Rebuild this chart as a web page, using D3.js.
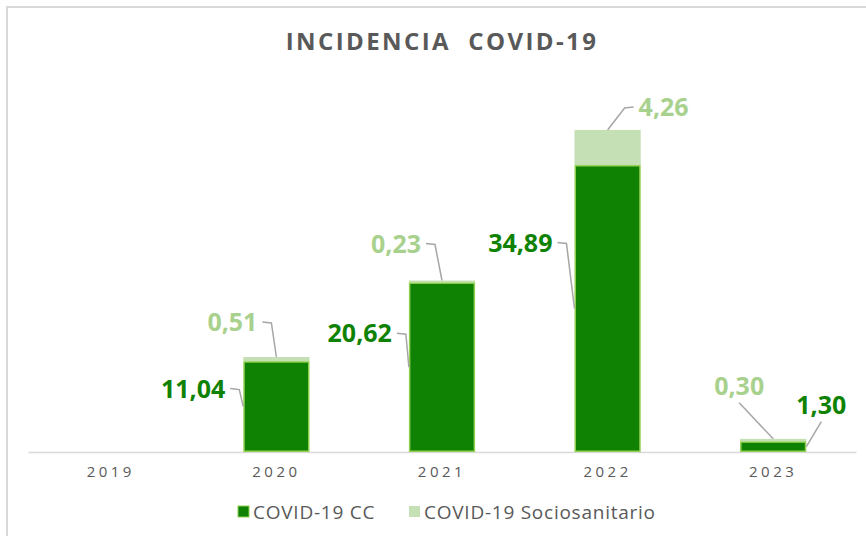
<!DOCTYPE html>
<html>
<head>
<meta charset="utf-8">
<script src="https://cdn.jsdelivr.net/npm/d3@7"></script>
<style>
  body { margin: 0; background: #fff; }
  svg { display: block; font-family: "Open Sans", sans-serif; }
</style>
</head>
<body>
<svg id="chart" width="866" height="536"></svg>
<script>
/* incidencia covid-19, barras apiladas */
var years = ["2019", "2020", "2021", "2022", "2023"];
var cc = [0, 11.04, 20.62, 34.89, 1.30];
var socio = [0, 0.51, 0.23, 4.26, 0.30];
var seriesNames = ["COVID-19 CC", "COVID-19 Sociosanitario"];

// posicion de etiquetas respecto al punto de la guia (layout)
var ccLab = [null,
	{dx: -18, dy: -18, anchor: "end", elbow: true},
	{dx: -17, dy: -34, anchor: "end", elbow: true},
	{dx: -22, dy: -66, anchor: "end", elbow: true},
	{dx: 15, dy: -42, anchor: "middle", elbow: false}];
var socioLab = [null,
	{dx: -19, dy: -35, anchor: "end", elbow: true},
	{dx: -21, dy: -37, anchor: "end", elbow: true},
	{dx: 31, dy: -23, anchor: "start", elbow: true},
	{dx: -34, dy: -53, anchor: "middle", elbow: false}];

var dark = "#0f8204", light = "#c5e0b4", edge = "#92d050";
var darkTxt = "#0f8204", lightTxt = "#a9d18e", grey = "#595959";

var svg = d3.select("#chart");

// marco
svg.append("rect").attr("x", 7).attr("y", 7).attr("width", 880).attr("height", 560)
	.attr("fill", "none").attr("stroke", "#d9d9d9").attr("stroke-width", 2);

svg.append("text").attr("x", 442).attr("y", 50)
	.attr("text-anchor", "middle").attr("fill", grey)
	.attr("font-size", "24px").attr("font-weight", "bold")
	.attr("letter-spacing", "2.4px").attr("xml:space", "preserve")
	.text("INCIDENCIA  COVID-19");

var x = d3.scaleBand().domain(years).range([28, 856]).paddingInner(0.6).paddingOuter(0.3);
var y = d3.scaleLinear().domain([0, 40]).range([452, 123]);

var xAxis = svg.append("g").attr("transform", "translate(0,452)")
	.call(d3.axisBottom(x).tickSize(0).tickPadding(14).tickSizeOuter(0));
xAxis.select(".domain").attr("stroke", "#d9d9d9").attr("stroke-width", 1.5);
xAxis.selectAll("text").attr("fill", grey).attr("font-size", "15px")
	.attr("letter-spacing", "3.5px").attr("font-family", "Open Sans, sans-serif");

var data = years.map(function(d, i) {
	return {year: d, cc: cc[i], socio: socio[i], i: i};
}).filter(function(d) { return d.cc + d.socio > 0; });

var bars = svg.append("g");
bars.selectAll(".s").data(data).enter().append("rect")
	.attr("x", function(d) { return x(d.year); })
	.attr("width", x.bandwidth())
	.attr("y", function(d) { return y(d.cc + d.socio); })
	.attr("height", function(d) { return y(d.cc) - y(d.cc + d.socio); })
	.attr("fill", light);
bars.selectAll(".c").data(data).enter().append("rect")
	.attr("x", function(d) { return x(d.year) + 0.75; })
	.attr("width", x.bandwidth() - 1.5)
	.attr("y", function(d) { return y(d.cc) + 0.75; })
	.attr("height", function(d) { return y(0) - y(d.cc) - 1.5; })
	.attr("fill", dark).attr("stroke", edge).attr("stroke-width", 1.5);

function fmt(v) { return d3.format(".2f")(v).replace(".", ","); }

var labs = svg.append("g");
function label(px, py, o, txt, col) {
	var tx = px + o.dx, ty = py + o.dy;
	var pts;
	if (o.elbow) {
		var s = o.anchor == "end" ? 1 : -1;
		pts = [[tx + 5 * s, ty], [tx + 14 * s, ty + 1], [px, py]];
	} else {
		pts = [[tx, ty + 17], [px, py]];
	}
	labs.append("path").attr("d", d3.line()(pts))
		.attr("fill", "none").attr("stroke", "#a6a6a6").attr("stroke-width", 1.5);
	labs.append("text").attr("x", tx).attr("y", ty).attr("dy", "0.36em")
		.attr("text-anchor", o.anchor).attr("fill", col)
		.attr("font-size", "25px").attr("font-weight", "bold").text(txt);
}
data.forEach(function(d) {
	var cx = x(d.year) + x.bandwidth() / 2;
	var mid = (y(0) + y(d.cc)) / 2;
	var edgeX = d.i == 4 ? x(d.year) + x.bandwidth() : x(d.year);
	label(edgeX, mid, ccLab[d.i], fmt(d.cc), darkTxt);
	label(cx, y(d.cc + d.socio), socioLab[d.i], fmt(d.socio), lightTxt);
});

// leyenda
var leg = svg.append("g").attr("transform", "translate(238,506)");
var lx = [0, 171];
seriesNames.forEach(function(n, i) {
	leg.append("rect").attr("x", lx[i]).attr("y", 0).attr("width", 11).attr("height", 11)
		.attr("fill", i == 0 ? dark : light)
		.attr("stroke", i == 0 ? edge : "none").attr("stroke-width", 1);
	leg.append("text").attr("x", lx[i] + 15).attr("y", 6).attr("dy", "0.36em")
		.attr("fill", grey).attr("font-size", "19px").attr("letter-spacing", "0.75px").text(n);
});
</script>
</body>
</html>
